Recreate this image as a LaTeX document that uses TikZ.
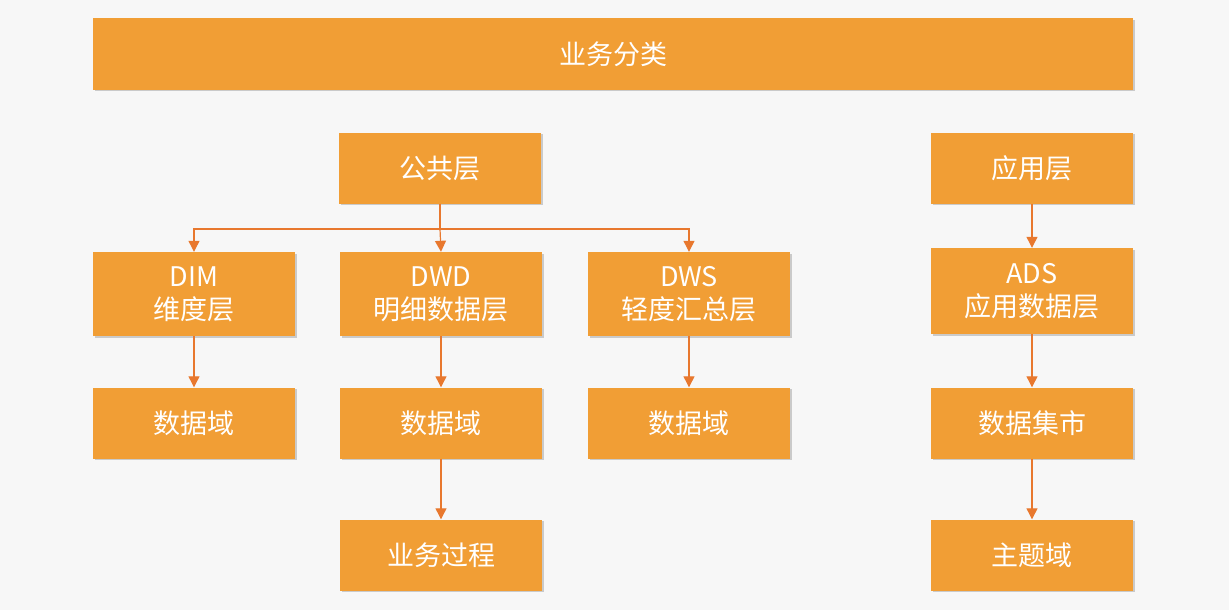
\documentclass[tikz,border=0pt]{standalone}
\usepackage{fontspec}
\setmainfont{Noto Sans CJK SC}
\usetikzlibrary{arrows.meta,shadows}
\definecolor{bg}{HTML}{F7F7F7}
\definecolor{boxc}{HTML}{F19E35}
\definecolor{arr}{HTML}{E8782E}
\tikzset{
  box/.style={fill=boxc, draw=none, text=white, minimum width=202pt, minimum height=71pt,
    inner sep=0pt, align=center, font=\fontsize{27}{33}\selectfont,
    drop shadow={shadow xshift=1.5pt, shadow yshift=-1.5pt, fill=black, opacity=0.18}},
  conn/.style={draw=arr, line width=1.2pt, -{Triangle[length=11pt,width=11pt]}}
}
\begin{document}
\begin{tikzpicture}[x=1pt,y=-1pt]
\fill[bg] (0,0) rectangle (1229,610);
\useasboundingbox (0,0) rectangle (1229,610);
\node[box, minimum width=1040pt] (top) at (613,54) {业务分类};
\node[box] (pub) at (440,168) {公共层};
\node[box] (app) at (1032,168) {应用层};
\node[box, minimum height=84pt] (dim) at (194,294) {DIM\\维度层};
\node[box, minimum height=84pt] (dwd) at (441,294) {DWD\\明细数据层};
\node[box, minimum height=84pt] (dws) at (689,294) {DWS\\轻度汇总层};
\node[box, minimum height=86pt] (ads) at (1032,291) {ADS\\应用数据层};
\node[box] (d1) at (194,423) {数据域};
\node[box] (d2) at (441,423) {数据域};
\node[box] (d3) at (689,423) {数据域};
\node[box] (mart) at (1032,423) {数据集市};
\node[box] (proc) at (441,555) {业务过程};
\node[box] (topic) at (1032,555) {主题域};
\coordinate (j) at (440,229);
\draw[draw=arr, line width=1.2pt] (pub.south) -- (j);
\draw[conn] (j) -| (dim.north);
\draw[conn] (j) -- (dwd.north);
\draw[conn] (j) -| (dws.north);
\draw[conn] (app) -- (ads);
\draw[conn] (dim) -- (d1);
\draw[conn] (dwd) -- (d2);
\draw[conn] (dws) -- (d3);
\draw[conn] (d2) -- (proc);
\draw[conn] (ads) -- (mart);
\draw[conn] (mart) -- (topic);
\end{tikzpicture}
\end{document}
